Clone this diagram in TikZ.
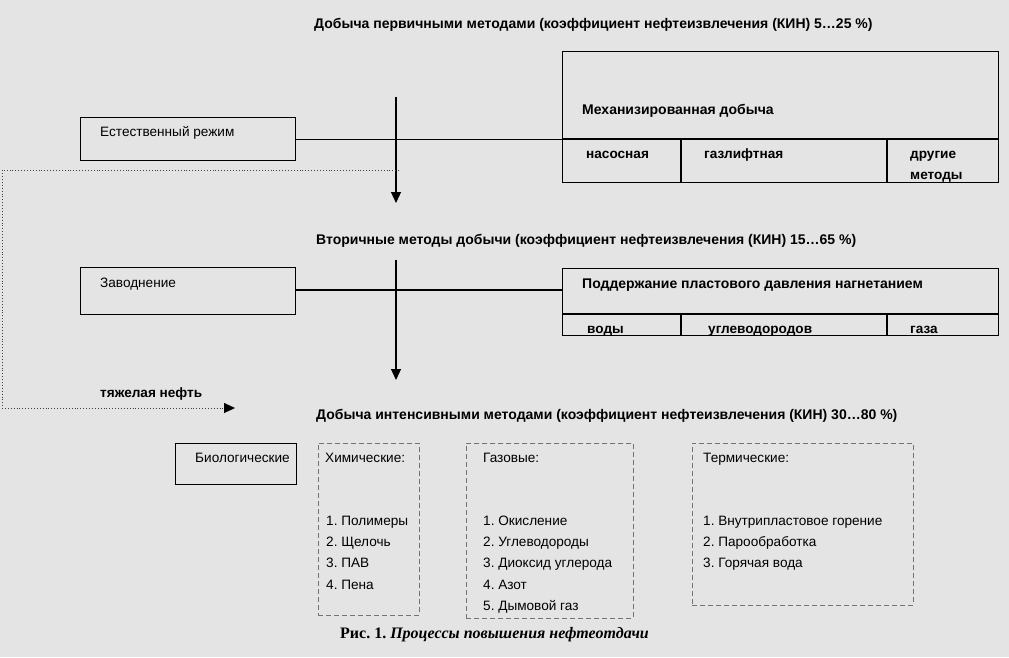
\documentclass[tikz,border=0pt]{standalone}
\usepackage{fontspec}
\setmainfont{Liberation Sans}
\newfontfamily\capfont{Liberation Serif}
\usetikzlibrary{arrows.meta}
\definecolor{paper}{RGB}{228,228,228}
\frenchspacing
\tikzset{
  box/.style={draw, line width=1.2pt, inner sep=0pt, anchor=north west},
  dbox/.style={draw=black!55, dashed, dash pattern=on 5pt off 3pt, line width=0.6pt, inner sep=0pt, anchor=north west},
  ttl/.style={anchor=base west, inner sep=0pt, font=\fontsize{14}{16}\selectfont\bfseries},
  txt/.style={anchor=base west, inner sep=0pt, font=\fontsize{13.6}{16}\selectfont},
  btxt/.style={txt, font=\fontsize{13.6}{16}\selectfont\bfseries},
  link/.style={line width=1.2pt},
  flow/.style={line width=1.2pt, -{Triangle[length=11pt,width=10pt]}},
  heavy/.style={black!75, line width=0.9pt, dotted, -{Triangle[length=11pt,width=10pt,black]}}
}
\begin{document}
\begin{tikzpicture}[x=1pt, y=-1pt]
\fill[paper] (0,0) rectangle (1009,657);
\useasboundingbox (0,0) rectangle (1009,657);

% Primary methods
\node[ttl] (t1) at (314,28) {Добыча первичными методами (коэффициент нефтеизвлечения (КИН) 5…25 \%)};
\node[box, minimum width=215pt, minimum height=43pt] (nat) at (80,117) {};
\node[txt] at (100,136) {Естественный режим};
\node[box, minimum width=436pt, minimum height=131pt] (mech) at (562,51) {};
\node[ttl] at (582,114) {Механизированная добыча};
\draw[link] (mech.west |- 0,139) -- (mech.east |- 0,139);
\draw[link] (681,139) -- (mech.south -| 681,0);
\draw[link] (887,139) -- (mech.south -| 887,0);
\node[btxt] at (586,158) {насосная};
\node[btxt] at (704,158) {газлифтная};
\node[btxt] at (910,158) {другие};
\node[btxt] at (910,179) {методы};
\draw[link] (nat.east) -- (mech.west |- nat.east);

% Secondary methods
\coordinate (a1) at (396,97);
\coordinate (a1end) at (396,203);
\draw[flow] (a1) -- (a1end);
\node[ttl] (t2) at (316,244) {Вторичные методы добычи (коэффициент нефтеизвлечения (КИН) 15…65 \%)};
\node[box, minimum width=215pt, minimum height=47pt] (zav) at (80,267) {};
\node[txt] at (100,287) {Заводнение};
\node[box, minimum width=436pt, minimum height=67pt] (ppd) at (562,268) {};
\node[ttl] at (582,288) {Поддержание пластового давления нагнетанием};
\draw[link] (ppd.west |- 0,314) -- (ppd.east |- 0,314);
\draw[link] (681,314) -- (ppd.south -| 681,0);
\draw[link] (887,314) -- (ppd.south -| 887,0);
\node[btxt] at (587,333) {воды};
\node[btxt] at (708,333) {углеводородов};
\node[btxt] at (910,333) {газа};
\draw[link] (zav.east |- 0,290) -- (ppd.west |- 0,290);

% Heavy oil
\coordinate (h0) at (399,170);
\coordinate (h1) at (2,170);
\coordinate (h2) at (2,408);
\coordinate (h3) at (235,408);
\draw[heavy] (h0) -- (h1) -- (h2) -- (h3);
\node[btxt] at (100,397) {тяжелая нефть};

% Enhanced methods
\coordinate (a2) at (396,260);
\coordinate (a2end) at (396,380);
\draw[flow] (a2) -- (a2end);
\node[ttl] (t3) at (316,419) {Добыча интенсивными методами (коэффициент нефтеизвлечения (КИН) 30…80 \%)};
\node[box, minimum width=121pt, minimum height=41pt] (bio) at (175,443) {};
\node[txt, anchor=base east] at (290,462) {Биологические};
\node[dbox, minimum width=101pt, minimum height=172pt] (chem) at (318,443) {};
\node[txt] at (325,462) {Химические:};
\node[dbox, minimum width=167pt, minimum height=175pt] (gas) at (466,443) {};
\node[txt] at (483,462) {Газовые:};
\node[dbox, minimum width=221pt, minimum height=162pt] (therm) at (692,443) {};
\node[txt] at (703,462) {Термические:};
\foreach \y/\s in {525/1. Полимеры, 546/2. Щелочь, 567/3. ПАВ, 589/4. Пена}
  \node[txt] at (326,\y) {\s};
\foreach \y/\s in {525/1. Окисление, 546/2. Углеводороды, 567/3. Диоксид углерода, 589/4. Азот, 610/5. Дымовой газ}
  \node[txt] at (483,\y) {\s};
\foreach \y/\s in {525/1. Внутрипластовое горение, 546/2. Парообработка, 567/3. Горячая вода}
  \node[txt] at (703,\y) {\s};

% Caption
\node[anchor=base west, inner sep=0pt, font=\capfont\fontsize{16}{18}\selectfont\bfseries] (cap) at (340,638) {Рис. 1. \textit{Процессы повышения нефтеотдачи}};
\end{tikzpicture}
\end{document}
